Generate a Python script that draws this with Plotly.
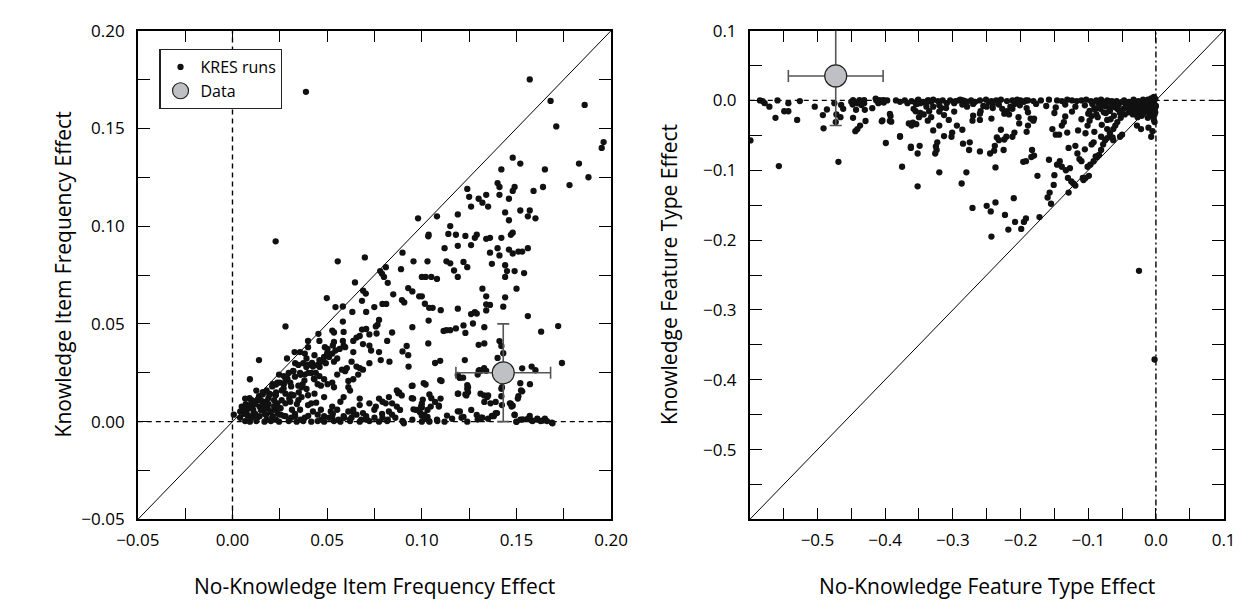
import plotly.graph_objects as go

# ---------------- data ----------------
# Left panel: KRES runs (no-knowledge effect, knowledge effect)
left_kres = [
    (0.0544,0.0586),(0.0583,0.0589),(0.0633,0.0561),(0.0684,0.0618),(0.0706,0.0561),(0.0749,0.0586),(0.0792,0.0602),(0.0812,0.0602),
    (0.0583,0.0512),(0.0774,0.052),(0.0766,0.0495),(0.0757,0.0487),(0.028,0.0487),
    (0.0454,0.0449),(0.0527,0.0466),(0.0536,0.0456),(0.0587,0.0459),(0.0684,0.0471),(0.0706,0.0474),(0.0723,0.0446),(0.0761,0.0451),(0.0638,0.0413),(0.0655,0.043),(0.0672,0.0438),
    (0.0399,0.0413),(0.0459,0.0413),(0.0536,0.0408),(0.0583,0.0413),(0.0689,0.0397),(0.0723,0.0389),(0.0817,0.0413),(0.0843,0.0456),
    (0.0328,0.0356),(0.0357,0.0356),(0.0399,0.0381),(0.0488,0.0381),(0.0502,0.0372),(0.0544,0.0364),(0.0566,0.0372),(0.0587,0.0389),(0.0595,0.0381),
    (0.0288,0.0323),(0.0382,0.0348),(0.0391,0.0323),(0.0433,0.034),(0.0459,0.0315),(0.0484,0.0331),(0.051,0.0331),(0.0527,0.0348),(0.0553,0.0323),(0.0638,0.0356),(0.0732,0.0364),(0.0774,0.0356),(0.0783,0.0315),(0.0829,0.0307),
    (0.014,0.0315),
    (0.0331,0.0299),(0.0348,0.029),(0.0374,0.0299),(0.0399,0.029),(0.0425,0.0282),(0.045,0.029),(0.0467,0.0307),(0.0493,0.0299),(0.0536,0.0307),(0.0578,0.0266),(0.0604,0.0274),(0.0629,0.0307),(0.0655,0.0282),(0.0672,0.0274),(0.0689,0.0266),(0.0723,0.0299),
    (0.0246,0.0241),(0.0271,0.0233),(0.0297,0.0249),(0.0322,0.0258),(0.0357,0.0249),(0.0382,0.0241),(0.0416,0.0249),(0.0459,0.0233),(0.0433,0.0217),(0.0484,0.0217),(0.0527,0.02),(0.0553,0.0241),(0.0595,0.0258),(0.0612,0.0208),(0.0638,0.0217),(0.0664,0.0241),
    (0.0092,0.0217),
    (0.0212,0.0192),(0.0237,0.02),(0.0271,0.0192),(0.0305,0.02),(0.0348,0.0184),(0.0365,0.0176),(0.0391,0.0167),(0.045,0.0192),(0.0467,0.0184),(0.0502,0.0192),(0.0536,0.0176),(0.0612,0.0176),(0.0621,0.0159),
    (0.0126,0.0159),(0.016,0.0151),(0.0194,0.0143),(0.0229,0.0135),(0.028,0.0143),(0.0322,0.0135),(0.0365,0.0126),(0.0399,0.0135),(0.0433,0.0143),(0.0484,0.0126),(0.0587,0.0126),(0.0672,0.0118),(0.0774,0.0118),(0.0792,0.0102),(0.0826,0.0126),
    (0.0067,0.0118),(0.0101,0.011),(0.0135,0.011),(0.0177,0.0102),(0.0237,0.0094),(0.028,0.0094),(0.0305,0.0102),(0.0348,0.011),(0.0399,0.0085),(0.0416,0.0094),(0.0442,0.0097),(0.0527,0.0077),(0.057,0.0102),(0.0672,0.0085),(0.0723,0.0094),(0.0757,0.0077),(0.0809,0.0094),(0.0843,0.0094),
    (0.0049,0.0077),(0.0084,0.0069),(0.0109,0.0085),(0.0143,0.0077),(0.0186,0.0069),(0.022,0.0061),(0.0254,0.0069),(0.0314,0.0061),(0.0357,0.0061),(0.0425,0.0052),(0.0467,0.0061),(0.0519,0.0052),(0.0553,0.0061),(0.0612,0.0052),(0.0638,0.0061),(0.0689,0.0044),(0.0749,0.0061),(0.0826,0.0052),
    (0.0007,0.0036),(0.0041,0.0052),(0.0075,0.0044),(0.0109,0.0036),(0.0143,0.0028),(0.0177,0.0036),(0.0212,0.0028),(0.0254,0.0036),(0.028,0.0028),(0.0331,0.0028),(0.0382,0.002),(0.045,0.0036),(0.0484,0.0028),(0.0527,0.002),(0.0587,0.0028),(0.0629,0.002),(0.0655,0.0036),(0.0706,0.0028),(0.0792,0.002),(0.0843,0.0036),
    (0.0067,0.0003),(0.0092,0.0),(0.0126,0.0003),(0.0169,0.0),(0.0203,0.0003),(0.0246,0.0),(0.0297,0.0003),(0.0339,0.0),(0.0374,0.0003),(0.0416,0.0),(0.045,0.0003),(0.0484,0.0),(0.0536,0.0003),(0.057,0.0),(0.0621,0.0003),(0.0672,0.0),(0.0723,0.0003),(0.0774,0.0),(0.0817,0.0003),
    (0.007,0.009),(0.009,0.012),(0.011,0.006),(0.013,0.011),(0.014,0.013),(0.016,0.009),(0.017,0.004),(0.018,0.016),(0.019,0.012),(0.021,0.018),(0.022,0.008),(0.023,0.015),(0.024,0.004),(0.025,0.020),(0.026,0.011),(0.027,0.017),(0.029,0.022),(0.031,0.014),(0.032,0.026),(0.034,0.009),(0.036,0.024),(0.037,0.019),(0.039,0.028),(0.042,0.030),(0.044,0.025),
    (0.004,0.002),(0.006,0.004),(0.010,0.002),(0.015,0.006),(0.018,0.001),(0.020,0.005),(0.023,0.001),(0.031,0.002),(0.033,0.004),(0.036,0.001),(0.040,0.003),(0.051,0.002),(0.056,0.001),(0.062,0.001),(0.068,0.001),(0.075,0.002),(0.082,0.001),
    (0.006,0.006),(0.008,0.003),(0.009,0.008),(0.010,0.010),(0.012,0.004),(0.012,0.009),(0.013,0.002),(0.015,0.011),(0.016,0.014),(0.017,0.007),(0.019,0.009),(0.020,0.014),(0.021,0.002),(0.022,0.011),(0.023,0.019),(0.024,0.007),(0.026,0.016),(0.027,0.003),(0.028,0.021),(0.030,0.012),
    (0.031,0.018),(0.033,0.023),(0.035,0.015),(0.038,0.021),(0.040,0.025),(0.043,0.022),(0.046,0.028),(0.048,0.032),(0.050,0.035),(0.053,0.039),(0.047,0.001),(0.053,0.004),(0.059,0.002),(0.064,0.004),(0.071,0.001),(0.079,0.004),(0.086,0.002),
    (0.0228,0.0922),(0.0388,0.1687),(0.0556,0.082),(0.0699,0.084),(0.0647,0.0712),(0.069,0.067),(0.0704,0.0655),(0.0498,0.0632),(0.078,0.077),(0.079,0.0756),(0.081,0.079),(0.080,0.074),(0.082,0.071),(0.0849,0.0651),(0.089,0.078),
    (0.157,0.175),(0.168,0.164),(0.186,0.162),(0.171,0.151),(0.196,0.143),(0.195,0.140),(0.148,0.135),(0.152,0.132),(0.142,0.129),(0.165,0.129),(0.183,0.132),(0.188,0.125),(0.178,0.121),
    (0.140,0.122),(0.141,0.120),(0.164,0.120),(0.149,0.120),(0.148,0.118),(0.124,0.119),(0.159,0.118),(0.125,0.115),(0.130,0.114),(0.132,0.112),(0.134,0.116),(0.126,0.110),(0.135,0.110),
    (0.141,0.116),(0.146,0.114),(0.144,0.107),(0.152,0.108),(0.157,0.108),(0.156,0.105),(0.160,0.104),(0.098,0.104),(0.108,0.105),(0.119,0.106),(0.115,0.100),(0.146,0.103),
    (0.1036,0.0956),(0.1034,0.0948),(0.114,0.096),(0.118,0.0956),(0.123,0.095),(0.129,0.0956),(0.128,0.094),(0.134,0.0935),(0.136,0.094),(0.142,0.094),(0.148,0.0966),(0.147,0.0956),
    (0.112,0.0887),(0.119,0.0899),(0.126,0.0903),(0.136,0.0864),(0.140,0.0887),(0.146,0.088),(0.148,0.086),(0.151,0.087),(0.153,0.087),(0.156,0.0887),(0.141,0.085),(0.0898,0.0864),
    (0.0956,0.082),(0.103,0.082),(0.113,0.082),(0.115,0.081),(0.122,0.0817),(0.117,0.0773),(0.119,0.074),(0.124,0.079),(0.137,0.0807),(0.144,0.080),(0.145,0.077),(0.149,0.077),(0.154,0.076),(0.144,0.074),
    (0.100,0.074),(0.102,0.074),(0.105,0.074),(0.108,0.073),(0.0928,0.0683),(0.095,0.0666),(0.0986,0.0641),(0.100,0.0641),(0.132,0.068),(0.134,0.0641),(0.150,0.068),
    (0.0895,0.0622),(0.0907,0.061),(0.1016,0.0603),(0.134,0.060),(0.136,0.0597),(0.144,0.0636),(0.1039,0.0582),(0.1057,0.0582),(0.110,0.057),(0.119,0.0578),(0.134,0.0569),(0.143,0.0588),
    (0.128,0.056),(0.129,0.0553),(0.126,0.055),(0.156,0.054),
    (0.095,0.0483),(0.1036,0.0517),(0.1115,0.0464),(0.113,0.0468),(0.115,0.0468),(0.118,0.0477),(0.122,0.0492),(0.123,0.0454),(0.127,0.0502),(0.133,0.0483),(0.172,0.0489),(0.163,0.046),
    (0.1034,0.040),(0.130,0.0393),(0.133,0.040),(0.141,0.0412),(0.142,0.0387),
    (0.0898,0.0359),(0.092,0.0387),(0.0928,0.034),(0.143,0.035),(0.140,0.0326),(0.107,0.030),(0.1097,0.0311),(0.093,0.0282),(0.130,0.026),(0.134,0.026),(0.153,0.0273),(0.158,0.0282),(0.160,0.0263),(0.174,0.030),
    (0.119,0.0239),(0.120,0.0225),(0.1097,0.0212),(0.101,0.0197),(0.102,0.0190),(0.0947,0.0183),(0.124,0.0187),(0.124,0.0168),(0.152,0.0197),(0.123,0.0139),(0.119,0.0143),(0.131,0.0143),
    (0.135,0.0134),(0.142,0.0168),(0.142,0.013),(0.153,0.0155),(0.151,0.013),(0.139,0.0101),(0.133,0.0101),(0.147,0.0092),(0.148,0.0082),(0.119,0.0053),
    (0.122,0.0025),(0.129,0.0034),(0.130,0.0015),(0.132,0.002),(0.135,0.0015),(0.137,0.0029),(0.139,0.0044),
    (0.149,0.0034),(0.150,0.0),(0.152,0.001),(0.156,0.0015),(0.157,0.0029),(0.158,0.0006),(0.161,0.0015),(0.164,0.0006),(0.165,0.0015),(0.169,-0.0008),
    (0.107,0.0101),(0.109,0.0082),(0.104,0.0139),(0.105,0.012),(0.100,0.0092),(0.100,0.0073),(0.0947,0.012),(0.0956,0.0063),(0.099,0.0048),(0.100,0.003),(0.103,0.0025),(0.108,0.001),
    (0.0898,0.0004),(0.0905,-0.0008),(0.095,0.001),(0.100,0.0),(0.104,0.0),(0.112,0.0),(0.116,0.0015),(0.124,0.0),(0.088,0.015),(0.0875,0.0145),
    (0.0868,0.016),(0.0894,0.0134),(0.0868,0.0077),(0.0885,0.006),(0.0902,-0.0002),(0.0951,0.0184),(0.0954,0.0118),(0.0971,0.006),(0.0996,0.0077),(0.1005,0.0113),
    (0.1013,0.0036),(0.1022,0.0015),(0.1039,0.0003),(0.103,0.006),(0.1047,0.0077),(0.109,0.0077),(0.1099,0.0118),(0.1104,0.0208),(0.1082,0.0003),(0.1133,0.0031),
    (0.1192,0.0143),(0.1201,0.0225),(0.1218,0.0225),(0.1201,0.0052),(0.121,0.002),(0.1244,0.0176),(0.1244,0.0151),(0.1235,0.0134),(0.1261,0.006),(0.1295,0.0011),
    (0.1312,0.002),(0.1329,0.0134),(0.1346,0.0126),(0.1363,0.0094),(0.138,0.0028),(0.1397,0.0044),(0.1423,0.0085),(0.1423,0.0176),(0.1465,0.0094),(0.1474,0.0077),
    (0.1507,0.0118),(0.1524,0.016),(0.1533,0.0011),(0.1571,0.0192),(0.1585,0.0003),(0.161,0.0011),(0.1627,0.0003),(0.1661,0.0003),(0.1687,-0.0005),(0.1499,-0.0001),
    (0.149,0.0036),(0.1295,0.0241),(0.1312,0.026),(0.1304,0.0264),(0.1329,0.0274),(0.1227,0.0315),
]

# Right panel: KRES runs (no-knowledge effect, knowledge effect)
right_kres = [
    (-0.599,-0.0573),(-0.585,0.0),(-0.581,-0.001),(-0.578,-0.004),(-0.571,-0.009),(-0.562,-0.025),(-0.559,0.0),(-0.549,-0.0155),(-0.543,-0.0155),(-0.543,-0.004),
    (-0.530,-0.028),(-0.526,-0.001),(-0.557,-0.094),(-0.504,-0.009),(-0.492,-0.021),(-0.491,-0.040),(-0.486,-0.013),(-0.475,-0.004),(-0.473,-0.031),(-0.472,-0.020),
    (-0.469,-0.088),(-0.465,-0.0064),(-0.462,-0.012),(-0.466,-0.024),(-0.450,-0.002),(-0.448,-0.006),(-0.444,-0.044),(-0.441,-0.041),(-0.437,-0.036),(-0.431,-0.004),
    (-0.413,0.0),(-0.410,-0.004),(-0.405,0.0),(-0.402,-0.003),(-0.397,0.0),(-0.405,-0.030),(-0.399,-0.061),(-0.392,-0.0225),(-0.391,-0.0305),
    (-0.384,0.0),(-0.378,-0.002),(-0.371,0.0),(-0.367,-0.004),(-0.361,-0.001),(-0.355,-0.004),(-0.352,0.0),(-0.348,-0.004),(-0.344,-0.002),(-0.340,-0.004),(-0.336,0.0),(-0.332,-0.002),
    (-0.375,-0.095),(-0.378,-0.052),(-0.365,-0.033),(-0.361,-0.036),(-0.362,-0.068),(-0.358,-0.012),(-0.355,-0.0155),(-0.350,-0.024),(-0.352,-0.076),(-0.349,-0.065),(-0.352,-0.123),
    (-0.343,-0.020),(-0.337,-0.029),(-0.335,-0.0155),(-0.329,-0.009),(-0.326,-0.076),(-0.323,-0.060),(-0.320,-0.036),(-0.320,-0.016),(-0.317,-0.011),(-0.324,-0.071),(-0.320,-0.103),(-0.313,-0.051),
    (-0.309,-0.004),(-0.304,0.0),(-0.298,-0.004),(-0.291,0.0),(-0.285,0.0),(-0.279,-0.002),(-0.273,0.0),(-0.267,-0.002),
    (-0.302,-0.052),(-0.294,-0.036),(-0.286,-0.042),(-0.285,-0.062),(-0.280,-0.103),(-0.287,-0.119),(-0.276,-0.071),(-0.271,-0.029),(-0.260,-0.028),(-0.271,-0.154),(-0.260,-0.073),
    (-0.259,-0.0155),(-0.250,-0.009),(-0.247,-0.002),(-0.241,-0.006),(-0.250,-0.151),(-0.244,-0.159),(-0.237,-0.146),(-0.243,-0.195),(-0.245,-0.076),(-0.238,-0.065),(-0.235,-0.053),(-0.232,-0.057),(-0.237,-0.096),
    (-0.225,-0.071),(-0.224,-0.056),(-0.221,-0.052),(-0.227,-0.012),(-0.224,-0.019),(-0.220,-0.0155),(-0.212,-0.012),(-0.209,-0.005),(-0.204,-0.004),(-0.200,0.0),(-0.195,-0.002),(-0.192,0.0),
    (-0.223,-0.164),(-0.218,-0.185),(-0.212,-0.052),(-0.209,-0.046),(-0.202,-0.033),(-0.210,-0.140),(-0.208,-0.174),(-0.199,-0.184),(-0.195,-0.174),(-0.192,-0.169),
    (-0.196,-0.088),(-0.192,-0.087),(-0.184,-0.081),(-0.180,-0.079),(-0.183,-0.071),(-0.189,-0.036),(-0.185,-0.026),(-0.180,-0.026),(-0.175,-0.108),(-0.172,-0.167),
    (-0.160,-0.139),(-0.157,-0.132),(-0.158,-0.085),(-0.155,-0.148),(-0.150,-0.107),(-0.151,-0.121),(-0.146,-0.092),(-0.142,-0.087),(-0.139,-0.095),(-0.148,-0.049),(-0.143,-0.049),(-0.139,-0.036),(-0.136,-0.031),
    (-0.133,-0.100),(-0.130,-0.111),(-0.127,-0.097),(-0.125,-0.116),(-0.122,-0.119),(-0.119,-0.122),(-0.129,-0.132),(-0.119,-0.065),(-0.116,-0.076),(-0.113,-0.084),
    (-0.110,-0.087),(-0.108,-0.111),(-0.107,-0.114),(-0.104,-0.111),(-0.099,-0.108),(-0.104,-0.047),(-0.101,-0.036),(-0.098,-0.029),(-0.095,-0.0225),
    (-0.101,-0.095),(-0.097,-0.092),(-0.092,-0.087),(-0.089,-0.080),(-0.087,-0.081),(-0.084,-0.078),(-0.081,-0.071),(-0.078,-0.063),(-0.075,-0.057),(-0.072,-0.054),(-0.068,-0.047),
    (-0.063,-0.041),(-0.060,-0.036),(-0.057,-0.031),(-0.052,-0.025),(-0.046,-0.020),(-0.040,-0.017),(-0.034,-0.013),(-0.028,-0.009),(-0.022,-0.006),(-0.017,-0.004),(-0.011,-0.003),
    (-0.092,-0.060),(-0.095,-0.063),(-0.081,-0.052),(-0.072,-0.041),(-0.063,-0.057),(-0.064,-0.053),(-0.053,-0.052),(-0.050,-0.049),(-0.028,-0.036),(-0.022,-0.041),(-0.011,-0.039),
    (-0.007,-0.052),(-0.005,-0.044),(-0.002,-0.031),(-0.002,-0.020),(-0.002,-0.013),(-0.025,-0.244),(-0.002,-0.371),
    (-0.045,-0.005),(-0.042,-0.010),(-0.040,-0.002),(-0.038,-0.015),(-0.036,-0.007),(-0.034,-0.020),(-0.032,-0.003),(-0.030,-0.012),(-0.028,-0.018),(-0.026,-0.001),(-0.025,-0.008),
    (-0.023,-0.014),(-0.021,-0.022),(-0.020,-0.004),(-0.018,-0.010),(-0.016,-0.016),(-0.015,-0.001),(-0.013,-0.007),(-0.012,-0.025),(-0.010,-0.012),(-0.009,-0.003),(-0.008,-0.018),
    (-0.007,0.003),(-0.006,-0.008),(-0.005,-0.002),(-0.004,-0.014),(-0.003,0.005),(-0.002,-0.006),(-0.001,0.002),(-0.001,-0.010),(-0.048,-0.012),(-0.050,-0.002),(-0.053,-0.018),
    (-0.055,-0.006),(-0.058,-0.001),(-0.060,-0.010),(-0.062,-0.022),(-0.065,-0.003),(-0.068,-0.015),(-0.070,-0.001),(-0.072,-0.028),(-0.075,-0.008),(-0.078,-0.002),(-0.080,-0.035),(-0.082,-0.012),(-0.085,-0.004),(-0.088,-0.020),
    (-0.044,-0.003),(-0.041,-0.007),(-0.037,-0.011),(-0.035,-0.004),(-0.031,-0.016),(-0.029,-0.006),(-0.027,-0.024),(-0.024,-0.003),(-0.022,-0.012),(-0.019,-0.019),(-0.017,-0.008),
    (-0.014,-0.013),(-0.011,-0.017),(-0.009,-0.007),(-0.006,-0.022),(-0.004,-0.004),(-0.003,-0.028),(-0.002,0.002),(-0.001,-0.017),(0.0,-0.008),(-0.012,0.001),(-0.019,0.001),
    (-0.033,0.001),(-0.047,0.0),(-0.056,-0.013),(-0.063,-0.007),(-0.069,-0.011),(-0.077,-0.017),(-0.083,-0.008),(-0.090,-0.013),(-0.094,-0.005),(-0.098,-0.015),
    (-0.351,0.001),(-0.337,0.0),(-0.329,0.001),(-0.322,-0.001),(-0.315,0.0),(-0.296,-0.001),(-0.289,0.001),(-0.282,-0.001),(-0.260,0.0),(-0.251,0.001),(-0.243,-0.001),(-0.236,0.0),
    (-0.229,0.001),(-0.220,-0.001),(-0.212,0.0),(-0.205,0.001),(-0.189,0.0),(-0.181,-0.001),(-0.170,0.0),(-0.158,0.001),(-0.146,0.0),(-0.139,-0.001),(-0.131,0.001),(-0.124,0.0),
    (-0.117,-0.001),(-0.110,0.0),(-0.103,0.001),(-0.096,-0.001),(-0.088,0.0),(-0.081,0.001),(-0.072,0.0),(-0.065,-0.001),
    (-0.353,-0.005),(-0.339,-0.009),(-0.320,-0.007),(-0.310,-0.011),(-0.286,-0.006),(-0.279,-0.009),(-0.270,-0.005),(-0.255,-0.008),(-0.241,-0.011),(-0.232,-0.006),(-0.215,-0.009),
    (-0.201,-0.007),(-0.191,-0.011),(-0.177,-0.005),(-0.162,-0.008),(-0.148,-0.010),(-0.134,-0.006),(-0.119,-0.009),(-0.105,-0.007),(-0.091,-0.011),(-0.076,-0.006),(-0.067,-0.009),
    (-0.348,-0.018),(-0.332,-0.024),(-0.313,-0.021),(-0.306,-0.028),(-0.298,-0.016),(-0.270,-0.022),(-0.260,-0.019),(-0.243,-0.026),(-0.217,-0.020),(-0.203,-0.024),(-0.189,-0.017),
    (-0.181,-0.029),(-0.150,-0.018),(-0.134,-0.023),(-0.124,-0.016),(-0.110,-0.027),(-0.100,-0.019),(-0.086,-0.024),(-0.074,-0.018),(-0.067,-0.027),
    (-0.329,-0.043),(-0.301,-0.046),(-0.229,-0.042),(-0.191,-0.045),(-0.153,-0.041),(-0.131,-0.046),(-0.115,-0.043),(-0.091,-0.045),
    (-0.325,-0.066),(-0.275,-0.060),(-0.239,-0.072),(-0.129,-0.068),(-0.105,-0.070),
    (-0.4474,0.0003),(-0.445,-0.002),(-0.441,-0.0042),(-0.438,0.0003),(-0.435,-0.0066),(-0.443,-0.0135),(-0.4474,-0.025),(-0.430,-0.0135),(-0.429,-0.0295),(-0.431,0.0003),
    (-0.419,-0.0111),(-0.414,0.0026),(-0.409,0.0003),(-0.407,-0.002),(-0.402,0.0003),(-0.393,-0.0194),(-0.404,-0.0286),(-0.393,-0.0295),(-0.378,-0.051),(-0.362,-0.0663),
    (-0.359,-0.0318),(-0.354,-0.034),
]

# Observed data points (with error bars)
left_data_x, left_data_y = [0.143], [0.025]
left_err_x, left_err_y = [0.025], [0.025]
right_data_x, right_data_y = [-0.473], [0.035]
right_err_x, right_err_y = [0.07], [0.071]

left_range = [-0.05, 0.20]
right_range = [-0.6, 0.1]
left_tickvals = [-0.05, -0.025, 0.0, 0.025, 0.05, 0.075, 0.10, 0.125, 0.15, 0.175, 0.20]
left_ticktext = ["\u22120.05", "", "0.00", "", "0.05", "", "0.10", "", "0.15", "", "0.20"]
right_tickvals = [-0.6, -0.55, -0.5, -0.45, -0.4, -0.35, -0.3, -0.25, -0.2, -0.15, -0.1, -0.05, 0.0, 0.05, 0.1]
right_ticktext = ["", "", "\u22120.5", "", "\u22120.4", "", "\u22120.3", "", "\u22120.2", "", "\u22120.1", "", "0.0", "", "0.1"]

titles = {
    "lx": "No-Knowledge Item Frequency Effect",
    "ly": "Knowledge Item Frequency Effect",
    "rx": "No-Knowledge Feature Type Effect",
    "ry": "Knowledge Feature Type Effect",
}

# ---------------- figure ----------------
W, H = 1260, 611
FONT = "Open Sans"
dot = dict(size=6.3, color="#111111", line=dict(width=0))
big = dict(size=22, color="#bfc0c4", line=dict(width=1.2, color="#222222"))
errstyle = dict(color="#555555", thickness=1.6, width=6)

fig = go.Figure()
fig.add_trace(go.Scatter(
    x=[p[0] for p in left_kres], y=[p[1] for p in left_kres], mode="markers",
    marker=dot, name="KRES runs", xaxis="x", yaxis="y"))
fig.add_trace(go.Scatter(
    x=left_data_x, y=left_data_y, mode="markers", marker=big, name="Data",
    error_x=dict(type="data", array=left_err_x, **errstyle),
    error_y=dict(type="data", array=left_err_y, **errstyle),
    xaxis="x", yaxis="y"))
fig.add_trace(go.Scatter(
    x=[p[0] for p in right_kres], y=[p[1] for p in right_kres], mode="markers",
    marker=dot, name="KRES runs", showlegend=False, xaxis="x2", yaxis="y2"))
fig.add_trace(go.Scatter(
    x=right_data_x, y=right_data_y, mode="markers", marker=big, name="Data", showlegend=False,
    error_x=dict(type="data", array=right_err_x, **errstyle),
    error_y=dict(type="data", array=right_err_y, **errstyle),
    xaxis="x2", yaxis="y2"))

TOP, BOT = 19.3, 527.3
ydom = [1 - BOT / H, 1 - TOP / H]
axis_common = dict(
    showline=True, linecolor="black", linewidth=1.5, mirror="ticks",
    ticks="inside", ticklen=12, tickwidth=1.2, tickcolor="black",
    showgrid=False, zeroline=False, tickfont=dict(size=17, color="black", family=FONT),
    fixedrange=True,
)

fig.update_layout(
    width=W, height=H, margin=dict(l=0, r=0, t=0, b=0),
    paper_bgcolor="white", plot_bgcolor="white",
    font=dict(family=FONT, color="black"),
    xaxis=dict(domain=[119.5 / W, 608 / W], range=left_range, tickvals=left_tickvals, ticktext=left_ticktext, anchor="y", ticklabelstandoff=4, **axis_common),
    yaxis=dict(domain=ydom, range=left_range, tickvals=left_tickvals, ticktext=left_ticktext, anchor="x", ticklabelstandoff=8, **axis_common),
    xaxis2=dict(domain=[751 / W, 1240 / W], range=right_range, tickvals=right_tickvals, ticktext=right_ticktext, anchor="y2", ticklabelstandoff=4, **axis_common),
    yaxis2=dict(domain=ydom, range=right_range, tickvals=right_tickvals, ticktext=right_ticktext, anchor="x2", ticklabelstandoff=8, **axis_common),
    showlegend=True,
    legend=dict(x=141.7 / W, y=1 - 38.3 / H, xanchor="left", yanchor="top",
                bgcolor="white", bordercolor="#222222", borderwidth=1.2,
                font=dict(size=16, family=FONT, color="black"), tracegroupgap=4),
)

# reference lines (diagonal and zero lines), built from axis ranges
for xr, yr, rng in (("x", "y", left_range), ("x2", "y2", right_range)):
    lo, hi = rng
    fig.add_shape(type="line", xref=xr, yref=yr, x0=lo, y0=lo, x1=hi, y1=hi,
                  line=dict(color="black", width=1), layer="below")
    fig.add_shape(type="line", xref=xr, yref=yr, x0=lo, y0=0, x1=hi, y1=0,
                  line=dict(color="black", width=1.4, dash="5px,4px"), layer="below")
    fig.add_shape(type="line", xref=xr, yref=yr, x0=0, y0=lo, x1=0, y1=hi,
                  line=dict(color="black", width=1.4, dash="5px,4px" if xr == "x" else "6px,3px,2px,3px"), layer="below")

tfont = dict(size=21, family=FONT, color="black")
common_ann = dict(xref="paper", yref="paper", showarrow=False, font=tfont, xanchor="center", yanchor="middle")
fig.add_annotation(text=titles["lx"], x=363.75 / W, y=1 - 596 / H, **common_ann)
fig.add_annotation(text=titles["rx"], x=995.5 / W, y=1 - 596 / H, **common_ann)
fig.add_annotation(text=titles["ly"], x=42 / W, y=1 - 273 / H, textangle=-90, **common_ann)
fig.add_annotation(text=titles["ry"], x=667 / W, y=1 - 273 / H, textangle=-90, **common_ann)

fig.write_html("out.html", config={"displayModeBar": False},
               post_script="document.body.style.margin='0px';")
